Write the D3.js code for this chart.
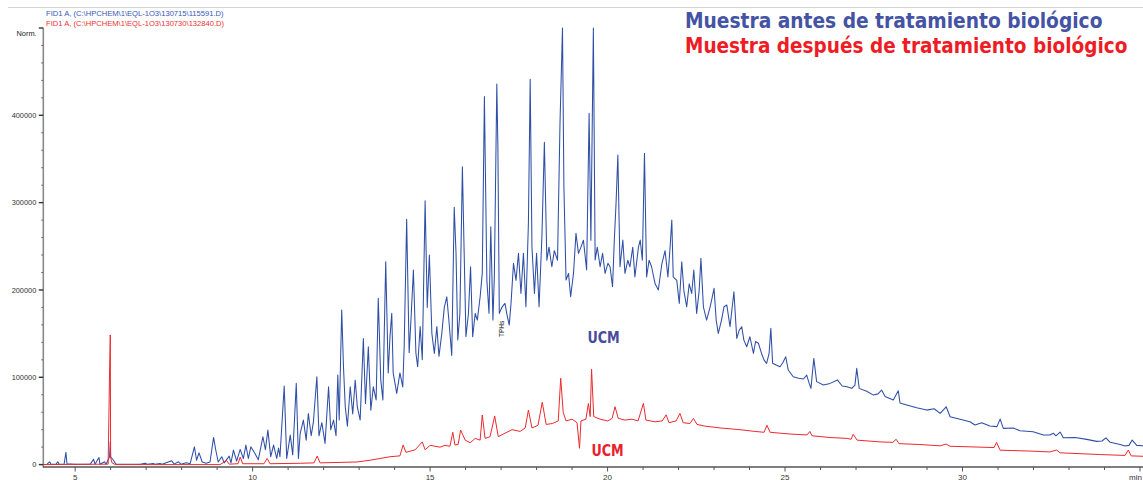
<!DOCTYPE html>
<html lang="es">
<head>
<meta charset="utf-8">
<script src="https://cdn.jsdelivr.net/npm/d3@7"></script>
<style>
  html, body { margin: 0; padding: 0; background: #ffffff; }
  svg { display: block; }
</style>
</head>
<body>
<svg id="chart" width="1143" height="480"></svg>
<script>
// FID chromatograms: retention time (min) vs. normalised detector signal.

// Sample before biological treatment: [time (min), signal]
const beforeTreatment = [
  [4.10,0],[4.21,500],[4.28,3200],[4.32,300],[4.46,300],[4.51,3200],[4.55,300],[4.69,500],[4.74,14000],[4.77,1000],
  [5.00,300],[5.42,300],[5.52,6000],[5.56,500],[5.67,8200],[5.70,500],[5.83,3200],[5.87,500],[5.97,9000],[5.99,26100],
  [6.00,9000],[6.08,5000],[6.15,500],[6.83,300],[6.97,1500],[7.03,300],[7.20,1200],[7.25,300],[7.39,1200],[7.45,300],
  [7.72,4400],[7.79,500],[7.91,3200],[7.98,500],[8.13,2000],[8.24,1000],[8.36,20400],[8.42,5000],[8.49,13500],[8.58,3000],
  [8.69,1500],[8.80,3000],[8.90,31100],[8.96,17000],[9.03,3000],[9.13,9000],[9.20,2000],[9.34,9700],[9.39,2000],[9.46,16600],
  [9.55,4000],[9.65,17400],[9.74,7000],[9.81,22300],[9.88,7000],[9.95,20400],[10.07,12400],[10.16,5500],[10.29,31900],[10.36,17000],
  [10.43,39500],[10.51,9000],[10.59,22300],[10.68,7000],[10.73,19000],[10.77,9000],[10.89,90000],[10.96,7000],[11.06,33800],[11.13,11000],
  [11.23,93000],[11.29,7000],[11.34,35700],[11.43,51000],[11.51,28000],[11.57,58600],[11.65,33000],[11.71,48000],[11.81,100600],[11.87,33000],
  [11.95,48000],[12.04,24300],[12.14,89100],[12.20,40000],[12.28,51000],[12.35,33000],[12.40,102500],[12.44,51000],[12.51,177000],[12.56,112000],
  [12.61,66200],[12.67,44000],[12.75,89100],[12.82,58000],[12.89,96800],[12.95,66000],[13.03,51000],[13.12,144500],[13.18,70000],[13.26,134900],
  [13.33,62400],[13.40,89000],[13.48,74000],[13.54,190400],[13.61,97000],[13.67,73900],[13.75,232300],[13.82,105000],[13.87,146400],[13.92,173200],
  [13.96,105000],[14.06,81500],[14.15,105000],[14.23,89000],[14.27,134900],[14.34,280900],[14.41,128000],[14.46,165000],[14.53,222800],[14.60,128000],
  [14.65,112000],[14.72,158000],[14.78,120000],[14.86,302200],[14.92,180000],[14.98,240000],[15.05,150000],[15.12,127400],[15.19,158000],[15.25,124000],
  [15.33,150300],[15.40,180000],[15.47,192200],[15.53,165000],[15.61,125000],[15.68,294600],[15.73,243000],[15.78,142600],[15.84,173000],[15.91,341000],
  [15.96,241900],[16.01,146400],[16.08,173000],[16.14,226600],[16.20,146400],[16.27,173000],[16.33,165500],[16.41,192200],[16.47,219000],[16.53,421400],
  [16.60,211000],[16.66,173200],[16.71,272400],[16.77,165500],[16.81,215000],[16.88,435900],[16.91,364000],[16.95,173200],[17.02,180000],[17.11,184600],
  [17.16,173000],[17.23,159800],[17.28,184600],[17.35,230500],[17.42,211000],[17.49,241900],[17.56,196000],[17.63,241900],[17.70,180700],[17.77,276300],
  [17.82,441200],[17.87,249000],[17.94,196100],[18.00,241900],[18.07,180700],[18.15,261000],[18.22,369100],[18.29,234000],[18.35,249000],[18.43,226600],
  [18.50,245000],[18.59,234000],[18.66,390800],[18.73,500000],[18.77,318000],[18.83,211300],[18.90,219000],[18.96,192200],[19.04,219000],[19.11,264800],
  [19.18,241900],[19.25,249000],[19.32,257000],[19.41,222800],[19.48,402200],[19.53,257000],[19.60,500000],[19.65,234300],[19.71,249000],[19.79,226600],
  [19.86,241900],[19.93,219000],[20.01,230500],[20.07,226600],[20.14,203700],[20.19,257000],[20.24,300000],[20.29,354500],[20.35,226600],[20.43,257200],
  [20.49,219000],[20.57,234000],[20.63,226600],[20.71,249000],[20.77,215000],[20.87,249000],[20.92,257200],[20.98,234000],[21.04,356500],[21.10,215000],
  [21.17,234000],[21.24,226600],[21.34,207000],[21.43,199900],[21.53,230000],[21.62,245000],[21.70,215000],[21.75,241900],[21.81,280000],[21.85,215000],
  [21.95,211000],[22.02,184600],[22.09,232300],[22.15,199000],[22.23,180700],[22.30,207000],[22.37,196000],[22.43,222800],[22.51,173200],[22.58,199000],
  [22.63,236200],[22.70,180700],[22.79,165500],[22.89,180700],[22.94,190000],[23.00,201800],[23.06,165500],[23.12,150300],[23.21,165500],[23.28,180700],
  [23.36,182700],[23.45,158000],[23.56,198000],[23.64,144500],[23.71,154000],[23.78,157900],[23.84,142600],[23.92,135000],[24.01,146400],[24.11,127400],
  [24.17,141000],[24.25,139000],[24.34,127000],[24.41,119700],[24.48,115900],[24.55,127000],[24.60,156000],[24.65,116000],[24.75,114000],[24.86,112000],
  [24.94,117000],[25.02,123500],[25.09,108300],[25.23,100600],[25.38,99000],[25.52,98000],[25.61,102500],[25.68,93000],[25.73,87300],[25.81,121600],
  [25.89,95000],[26.08,91100],[26.27,93000],[26.48,96800],[26.61,90000],[26.74,89100],[26.88,87300],[26.97,91000],[27.02,110200],[27.09,87300],
  [27.30,84000],[27.49,79600],[27.62,81000],[27.72,85300],[27.82,78000],[28.05,73900],[28.19,84500],[28.24,70500],[28.43,68200],[28.71,65000],
  [28.99,62400],[29.20,64000],[29.37,58600],[29.54,66200],[29.65,54800],[29.93,52000],[30.21,49000],[30.35,45400],[30.54,48000],[30.77,44100],
  [30.97,43500],[31.06,52100],[31.15,41500],[31.43,42000],[31.62,38700],[31.99,37600],[32.28,33800],[32.46,34000],[32.56,36000],[32.63,33000],
  [32.75,37200],[32.84,30700],[33.17,31000],[33.50,28900],[33.78,26600],[33.93,27000],[34.04,30700],[34.16,25500],[34.44,23100],[34.58,21200],
  [34.69,22000],[34.78,28100],[34.91,22000],[35.09,21500]
];

// Sample after biological treatment: [time (min), signal]
const afterTreatment = [
  [4.10,0],[5.93,500],[5.97,106000],[5.99,148500],[6.00,8000],[6.04,2000],[6.13,0],[9.08,0],[9.27,4500],[9.34,500],
  [9.59,1000],[9.65,8500],[9.72,1000],[10.32,1000],[10.41,7000],[10.49,1000],[11.34,1500],[11.73,2000],[11.82,9800],[11.90,2000],
  [12.46,2500],[12.94,3000],[13.31,5000],[13.59,7000],[13.87,9000],[14.15,10000],[14.24,22500],[14.32,14000],[14.58,17000],[14.78,26000],
  [14.86,17000],[15.00,22000],[15.28,20000],[15.42,22000],[15.56,21000],[15.64,37000],[15.70,22500],[15.79,23000],[15.86,39600],[15.99,28000],
  [16.13,25000],[16.27,30000],[16.41,28000],[16.47,56800],[16.55,30000],[16.69,32000],[16.82,55700],[16.92,32000],[17.11,36000],[17.31,40000],
  [17.54,38000],[17.68,42000],[17.77,62500],[17.87,42000],[18.04,45000],[18.16,71400],[18.27,46000],[18.44,47000],[18.61,50000],[18.68,98900],
  [18.75,60000],[18.83,50000],[19.00,52000],[19.14,48000],[19.21,18700],[19.25,50000],[19.39,52000],[19.46,70000],[19.51,55000],[19.55,109200],
  [19.61,55000],[19.79,52000],[20.01,50000],[20.13,53000],[20.21,66300],[20.30,53000],[20.49,51000],[20.69,52000],[20.86,50000],[21.01,70200],
  [21.08,51000],[21.34,49000],[21.54,50000],[21.65,57000],[21.73,48000],[21.93,50000],[22.04,58600],[22.13,48000],[22.32,47000],[22.42,52900],
  [22.52,46000],[22.75,44000],[23.17,42000],[23.73,40000],[24.15,38000],[24.41,37000],[24.49,45000],[24.58,37000],[25.14,35000],[25.62,34000],
  [25.70,38000],[25.76,33000],[26.27,31000],[26.75,30000],[26.86,29000],[26.92,34700],[27.03,28000],[27.68,26000],[28.04,25500],[28.13,29000],
  [28.21,24000],[28.80,23000],[29.37,21500],[29.54,23500],[29.65,21000],[30.49,20000],[30.89,19500],[30.96,25500],[31.06,16500],[31.90,15500],
  [32.46,14500],[32.65,16700],[32.75,13500],[33.31,12500],[33.87,11500],[34.58,10500],[34.67,16700],[34.75,10000],[35.09,9500]
];

// Axis ticks and labels
const xMajorTicks = [5, 10, 15, 20, 25, 30];
const yMajorTicks = [0, 100000, 200000, 300000, 400000];
const xDomain = [4.10, 35.085];
const yDomain = [0, 500000];

const fileBefore = "FID1 A, (C:\\HPCHEM\\1\\EQL-1O3\\130715\\115591.D)";
const fileAfter  = "FID1 A, (C:\\HPCHEM\\1\\EQL-1O3\\130730\\132840.D)";
const legendBefore = "Muestra antes de tratamiento biológico";
const legendAfter  = "Muestra después de tratamiento biológico";

const BLUE = "#2f4fa6";
const RED = "#ec2a2e";

const svg = d3.select("#chart");

const x = d3.scaleLinear().domain(xDomain).range([43.2, 1143]);
const y = d3.scaleLinear().domain(yDomain).range([464.6, 28]);

// thin rule across the top of the report
svg.append("line")
  .attr("x1", 8).attr("x2", 1143).attr("y1", 7.5).attr("y2", 7.5)
  .attr("stroke", "#d4d4d4").attr("stroke-width", 1);

// data-file headers
svg.append("text").attr("x", 46).attr("y", 16)
  .attr("font-family", "Liberation Sans, Arial, sans-serif").attr("font-size", 7.6)
  .attr("fill", "#3558b8").text(fileBefore);
svg.append("text").attr("x", 46).attr("y", 25.6)
  .attr("font-family", "Liberation Sans, Arial, sans-serif").attr("font-size", 7.6)
  .attr("fill", "#ee3030").text(fileAfter);

// y axis
const yAxisG = svg.append("g").attr("transform", "translate(43.3,0)");
yAxisG.append("line").attr("x1", 0).attr("x2", 0).attr("y1", y(500000)).attr("y2", 467.5)
  .attr("stroke", "#8a8a8a").attr("stroke-width", 1.6);
const yMinor = d3.range(0, 500001, 20000);
yAxisG.selectAll("line.minor").data(yMinor).join("line")
  .attr("class", "minor")
  .attr("x1", d => (d % 100000 === 0) ? -4.5 : -2).attr("x2", 0)
  .attr("y1", d => y(d)).attr("y2", d => y(d))
  .attr("stroke", d => (d % 100000 === 0) ? "#333" : "#666")
  .attr("stroke-width", d => (d % 100000 === 0) ? 1.4 : 1);
yAxisG.selectAll("text.tick").data(yMajorTicks).join("text")
  .attr("class", "tick")
  .attr("x", -7).attr("y", d => y(d) + 2.6)
  .attr("text-anchor", "end")
  .attr("font-family", "Liberation Sans, Arial, sans-serif").attr("font-size", 7.4)
  .attr("fill", "#333")
  .text(d => String(d));
svg.append("text").attr("x", 16.5).attr("y", 35.5)
  .attr("font-family", "Liberation Sans, Arial, sans-serif").attr("font-size", 7.4)
  .attr("fill", "#222").text("Norm.");

// x axis
const xAxisG = svg.append("g").attr("transform", "translate(0,467)");
xAxisG.append("line").attr("x1", 43).attr("x2", 1143).attr("y1", 0).attr("y2", 0)
  .attr("stroke", "#555").attr("stroke-width", 1.4);
const xMinor = d3.range(5, 36, 1);
xAxisG.selectAll("line.minor").data(xMinor).join("line")
  .attr("class", "minor")
  .attr("x1", d => x(d)).attr("x2", d => x(d))
  .attr("y1", 0).attr("y2", d => (d % 5 === 0) ? 4.5 : 3)
  .attr("stroke", "#555").attr("stroke-width", 1);
xAxisG.selectAll("text.tick").data(xMajorTicks).join("text")
  .attr("class", "tick")
  .attr("x", d => x(d)).attr("y", 12.5)
  .attr("text-anchor", "middle")
  .attr("font-family", "Liberation Sans, Arial, sans-serif").attr("font-size", 8)
  .attr("fill", "#333")
  .text(d => String(d));
xAxisG.append("text").attr("x", 1129).attr("y", 12.5)
  .attr("font-family", "Liberation Sans, Arial, sans-serif").attr("font-size", 8)
  .attr("fill", "#333").text("min");

// traces
svg.append("clipPath").attr("id", "plotClip")
  .append("rect").attr("x", 43).attr("y", 27).attr("width", 1100).attr("height", 440);

const line = d3.line().x(d => x(d[0])).y(d => y(d[1]));

const traces = svg.append("g").attr("clip-path", "url(#plotClip)");
traces.append("path").datum(beforeTreatment)
  .attr("d", line).attr("fill", "none")
  .attr("stroke", BLUE).attr("stroke-width", 1.05).attr("stroke-linejoin", "round");
traces.append("path").datum(afterTreatment)
  .attr("d", line).attr("fill", "none")
  .attr("stroke", RED).attr("stroke-width", 1).attr("stroke-linejoin", "round");

// annotations
svg.append("text")
  .attr("transform", "translate(503.5,337) rotate(-90)")
  .attr("font-family", "Liberation Sans, Arial, sans-serif").attr("font-size", 6.5)
  .attr("fill", "#111").text("TPHs");

svg.append("text")
  .attr("transform", "translate(587.5,342.6) scale(0.82,1)")
  .attr("font-family", "DejaVu Sans, Verdana, sans-serif").attr("font-weight", "bold")
  .attr("font-size", 15.5)
  .attr("fill", "#4a4a9c").text("UCM");
svg.append("text")
  .attr("transform", "translate(591.5,455.6) scale(0.82,1)")
  .attr("font-family", "DejaVu Sans, Verdana, sans-serif").attr("font-weight", "bold")
  .attr("font-size", 15.5)
  .attr("fill", "#e8222c").text("UCM");

// legend (bold face, slightly condensed horizontally)
svg.append("text")
  .attr("transform", "translate(685,28.4) scale(0.888,1)")
  .attr("font-family", "DejaVu Sans, Verdana, sans-serif").attr("font-weight", "bold")
  .attr("font-size", 21)
  .attr("fill", "#4453a4").text(legendBefore);
svg.append("text")
  .attr("transform", "translate(685,53.3) scale(0.88,1)")
  .attr("font-family", "DejaVu Sans, Verdana, sans-serif").attr("font-weight", "bold")
  .attr("font-size", 21)
  .attr("fill", "#ee1c25").text(legendAfter);
</script>
</body>
</html>
